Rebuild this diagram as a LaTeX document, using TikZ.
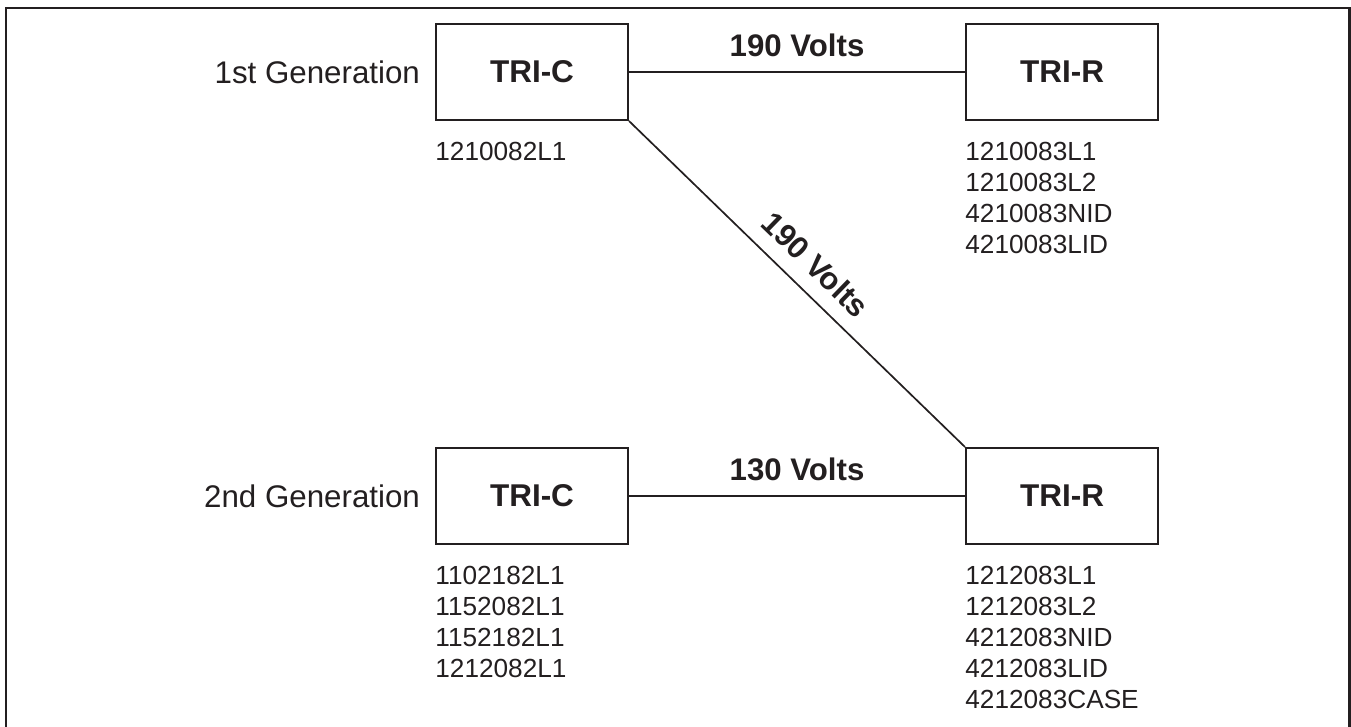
\documentclass[tikz,border=0pt]{standalone}
\usepackage{fontspec}
\setmainfont{Liberation Sans}
\usetikzlibrary{positioning}
\definecolor{ink}{HTML}{231F20}

\begin{document}
\begin{tikzpicture}[x = 0.5pt, y = -0.5pt, draw = ink, text = ink]

	% Definitions
	
	\def\W{96pt}		% Box width
	\def\H{48pt}		% Box height
	\def\D{168pt}		% Gap between TRI-C and TRI-R
	\def\V{163pt}		% Gap between generations
	
	\tikzset{
		unit/.style = {draw, line width = 1pt, minimum width = \W, minimum height = \H, inner sep = 0, font = \fontsize{15.75}{18}\selectfont\bfseries},
		gen/.style = {font = \fontsize{15.65}{18}\selectfont},
		parts/.style = {align = left, inner sep = 0, font = \fontsize{13.1}{15.5}\selectfont},
		volts/.style = {font = \fontsize{15.6}{18}\selectfont\bfseries},
		wire/.style = {line width = 0.85pt}
	}
	
	\useasboundingbox (0, 0) rectangle (1351, 727);
	
	% Frame, open at the bottom
	
	\draw [line width = 1.2pt] (6, 740) -- (6, 8) -- (1349.5, 8) -- (1349.5, 740);
	
	% Units
	
	\node [unit] (c1) at (532, 72) {TRI-C};
	\node [unit, right = \D of c1] (r1) {TRI-R};
	\node [unit, below = \V of c1] (c2) {TRI-C};
	\node [unit, right = \D of c2] (r2) {TRI-R};
	
	% Generation labels
	
	\node [gen, left = 4pt of c1] (g1) {1st Generation};
	\node [gen, left = 4pt of c2] (g2) {2nd Generation};
	
	% Part numbers
	
	\node [parts, below = 10.5pt of c1.south west, anchor = north west] (p1) {1210082L1};
	\node [parts, below = 10.5pt of r1.south west, anchor = north west] (p2) {1210083L1\\1210083L2\\4210083NID\\4210083LID};
	\node [parts, below = 10.5pt of c2.south west, anchor = north west] (p3) {1102182L1\\1152082L1\\1152182L1\\1212082L1};
	\node [parts, below = 10.5pt of r2.south west, anchor = north west] (p4) {1212083L1\\1212083L2\\4212083NID\\4212083LID\\4212083CASE};
	
	% Supply lines
	
	\draw [wire] (c1) -- node [volts, above = 4pt] (v1) {190 Volts} (r1);
	\draw [wire] (c2) -- node [volts, above = 4pt] (v2) {130 Volts} (r2);
	\draw [wire] (c1.south east) -- node [volts, above = 4pt, sloped] (v3) {190 Volts} (r2.north west);

\end{tikzpicture}
\end{document}
